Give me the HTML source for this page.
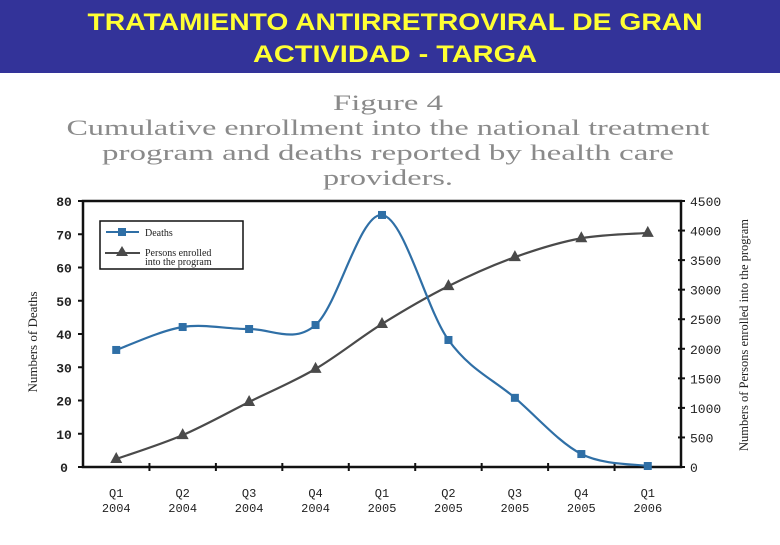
<!DOCTYPE html>
<html><head><meta charset="utf-8"><style>
body{margin:0;background:#fff;width:780px;height:540px;overflow:hidden}
</style></head><body>
<svg id="c" width="780" height="540" xmlns="http://www.w3.org/2000/svg">
<rect x="0" y="0" width="780" height="73" fill="#333399"/>
<g font-family="Liberation Sans, sans-serif" font-weight="bold" font-size="24" fill="#ffff33" text-anchor="middle">
<text x="395" y="30" textLength="615" lengthAdjust="spacingAndGlyphs">TRATAMIENTO ANTIRRETROVIRAL DE GRAN</text>
<text x="395" y="62" textLength="284" lengthAdjust="spacingAndGlyphs">ACTIVIDAD  - TARGA</text>
</g>
<g font-family="Liberation Serif, serif" font-size="22" fill="#8a8a8a" text-anchor="middle">
<text x="388" y="110" textLength="110" lengthAdjust="spacingAndGlyphs">Figure 4</text>
<text x="388" y="135" textLength="643" lengthAdjust="spacingAndGlyphs">Cumulative enrollment into the national treatment</text>
<text x="388" y="160" textLength="572" lengthAdjust="spacingAndGlyphs">program and deaths reported by health care</text>
<text x="388" y="185" textLength="130" lengthAdjust="spacingAndGlyphs">providers.</text>
</g>
<g id="plot"></g>
</svg>
<script>
const categories=["Q1|2004","Q2|2004","Q3|2004","Q4|2004","Q1|2005","Q2|2005","Q3|2005","Q4|2005","Q1|2006"];
const deaths=[35.2,42.1,41.5,42.7,75.8,38.2,20.8,3.9,0.3];
const enrolled=[135,540,1100,1660,2420,3060,3550,3870,3960];
const leftTicks=[0,10,20,30,40,50,60,70,80];
const rightTicks=[0,500,1000,1500,2000,2500,3000,3500,4000,4500];
const L=83,R=681,T=201,B=467;
const NS="http://www.w3.org/2000/svg";
const g=document.getElementById('plot');
const bw=(R-L)/categories.length;
const xs=i=>L+bw*(i+0.5);
const yL=v=>B-(v/80)*(B-T);
const yR=v=>B-(v/4500)*(B-T);
function mk(tag,attrs,parent){const e=document.createElementNS(NS,tag);for(const k in attrs)e.setAttribute(k,attrs[k]);(parent||g).appendChild(e);return e;}
let e=mk('rect',{x:L,y:T,width:R-L,height:B-T,fill:'none',stroke:'#111','stroke-width':2.5});


leftTicks.forEach(v=>{
  mk('line',{x1:L-5,x2:L,y1:yL(v),y2:yL(v),stroke:'#111','stroke-width':2});
  const t=mk('text',{x:64,y:yL(v)+5,'text-anchor':'middle','font-family':'Liberation Mono, monospace','font-weight':'bold','font-size':13,fill:'#222'});
  t.textContent=v;
  
  
});
rightTicks.forEach(v=>{
  mk('line',{x1:R-3,x2:R+4,y1:yR(v),y2:yR(v),stroke:'#111','stroke-width':2});
  const t=mk('text',{x:690,y:yR(v)+5,'font-family':'Liberation Mono, monospace','font-size':13,fill:'#222'});
  t.textContent=v;
  
  
});
categories.forEach((c,i)=>{
  if(i>0)mk('line',{x1:L+bw*i,x2:L+bw*i,y1:B-4,y2:B+4,stroke:'#111','stroke-width':2});
  const p=c.split('|');
  const t=mk('text',{x:xs(i),y:497,'text-anchor':'middle','font-family':'Liberation Mono, monospace','font-size':12,fill:'#222'});
  t.textContent=p[0];
  
  
  const t2=mk('text',{x:xs(i),y:512,'text-anchor':'middle','font-family':'Liberation Mono, monospace','font-size':12,fill:'#222'});
  t2.textContent=p[1];
  
  
});
function smooth(pts){let d='M'+pts[0][0]+','+pts[0][1];for(let i=0;i<pts.length-1;i++){const p0=pts[i-1]||pts[i],p1=pts[i],p2=pts[i+1],p3=pts[i+2]||p2;const c1=[p1[0]+(p2[0]-p0[0])/6,p1[1]+(p2[1]-p0[1])/6],c2=[p2[0]-(p3[0]-p1[0])/6,p2[1]-(p3[1]-p1[1])/6];d+=` C${c1[0]},${c1[1]} ${c2[0]},${c2[1]} ${p2[0]},${p2[1]}`;}return d;}
const ep=enrolled.map((v,i)=>[xs(i),yR(v)]);
e=mk('path',{d:smooth(ep),fill:'none',stroke:'#4a4a4a','stroke-width':2.2});


ep.forEach(p=>{const m=mk('polygon',{points:`${p[0]},${p[1]-7} ${p[0]-6},${p[1]+4} ${p[0]+6},${p[1]+4}`,fill:'#4a4a4a'});
  
  });
const dp=deaths.map((v,i)=>[xs(i),yL(v)]);
e=mk('path',{d:smooth(dp),fill:'none',stroke:'#2f6fa6','stroke-width':2.2});


dp.forEach(p=>{const m=mk('rect',{x:p[0]-4,y:p[1]-4,width:8,height:8,fill:'#2f6fa6'});
  
  });
// legend
const lg=mk('g',{});


mk('rect',{x:100,y:221,width:143,height:48,fill:'#fff',stroke:'#111','stroke-width':1.5},lg);
mk('line',{x1:106,x2:139,y1:232,y2:232,stroke:'#2f6fa6','stroke-width':2},lg);
mk('rect',{x:118,y:228,width:8,height:8,fill:'#2f6fa6'},lg);
mk('line',{x1:105,x2:140,y1:253,y2:253,stroke:'#4a4a4a','stroke-width':2},lg);
mk('polygon',{points:'122,246 116,256 128,256',fill:'#4a4a4a'},lg);
[['Deaths',236],['Persons enrolled',256],['into the program',265]].forEach(a=>{const t=mk('text',{x:145,y:a[1],'font-family':'Liberation Serif, serif','font-size':10,fill:'#222'},lg);t.textContent=a[0];});
let t=mk('text',{transform:'translate(37,342) rotate(-90)','text-anchor':'middle','font-family':'Liberation Serif, serif','font-size':13,fill:'#222'});
t.textContent='Numbers of Deaths';


t=mk('text',{transform:'translate(748,335) rotate(-90)','text-anchor':'middle','font-family':'Liberation Serif, serif','font-size':13,fill:'#222',textLength:232,lengthAdjust:'spacingAndGlyphs'});
t.textContent='Numbers of Persons enrolled into the program';


</script>
</body></html>
